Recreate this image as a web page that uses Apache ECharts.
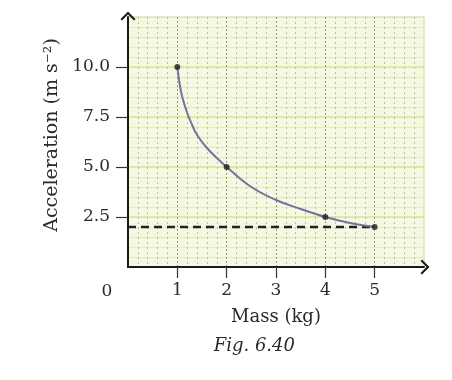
<!DOCTYPE html>
<html>
<head>
<meta charset="utf-8">
<style>html,body{margin:0;padding:0;background:#fff;}#c{width:452px;height:380px;}</style>
<script src="https://cdn.jsdelivr.net/npm/echarts@6/dist/echarts.min.js"></script>
</head>
<body>
<div id="c"></div>
<script>
// values
var curveMass = [1, 1.05, 1.1, 1.2, 1.3, 1.4, 1.6, 1.8, 2, 2.5, 3, 3.5, 4, 4.5, 5];
var curveAcc  = [10, 9.1, 8.5, 7.7, 7.1, 6.6, 5.95, 5.45, 5, 4.0, 3.35, 2.9, 2.5, 2.2, 2.0];
var pointMass = [1, 2, 4, 5];
var pointAcc  = [10, 5, 2.5, 2.0];
var dashMass = [0, 5];
var dashAcc  = [2.0, 2.0];
var xTicks = [1, 2, 3, 4, 5];
var yTicks = [2.5, 5, 7.5, 10];
var xName = 'Mass (kg)';
var yName = 'Acceleration (m s\u207B\u00B2)';
var caption = 'Fig. 6.40';
var originLabel = '0';

function zip(a, b) { return a.map(function (v, i) { return [v, b[i]]; }); }

var chev = 'path://M0,10 L10,0 L20,10 L18,12 L10,4 L2,12 Z';
var serif = 'DejaVu Serif';
var chart = echarts.init(document.getElementById('c'), null, {renderer: 'canvas'});
chart.setOption({
  animation: false,
  backgroundColor: '#ffffff',
  grid: {left: 128, right: 28, top: 17, bottom: 113, show: true,
         backgroundColor: '#f5f9e3', borderColor: '#c9d99a', borderWidth: 1},
  xAxis: {
    type: 'value', min: 0, max: 6, interval: 1,
    axisLine: {show: true, onZero: false, symbol: ['none', chev], symbolSize: [16, 9], symbolOffset: [0, 1],
               lineStyle: {color: '#1a1a1a', width: 2}},
    axisTick: {show: true, customValues: xTicks, length: 11, lineStyle: {color: '#333', width: 1.2}},
    axisLabel: {customValues: xTicks, margin: 15, fontFamily: serif, fontSize: 17, color: '#2a2a2a'},
    splitLine: {show: true, lineStyle: {color: '#8f9f7a', width: 1, type: [2, 2]}},
    minorTick: {show: true, splitNumber: 5, length: 0},
    minorSplitLine: {show: true, lineStyle: {color: '#b3c2a0', width: 1, type: [2, 3]}},
    name: xName, nameLocation: 'middle', nameGap: 41,
    nameTextStyle: {fontFamily: serif, fontSize: 18, color: '#2a2a2a'}
  },
  yAxis: {
    type: 'value', min: 0, max: 12.5, interval: 2.5,
    axisLine: {show: true, onZero: false, symbol: ['none', chev], symbolSize: [16, 9], symbolOffset: [0, 1],
               lineStyle: {color: '#1a1a1a', width: 2}},
    axisTick: {show: true, customValues: yTicks, length: 12, lineStyle: {color: '#333', width: 1.2}},
    axisLabel: {customValues: yTicks, margin: 18, fontFamily: serif, fontSize: 17, color: '#2a2a2a',
                formatter: function (v) { return v.toFixed(1); }},
    splitLine: {show: true, lineStyle: {color: '#d3e38e', width: 1.6}},
    minorTick: {show: true, splitNumber: 5, length: 0},
    minorSplitLine: {show: true, lineStyle: {color: '#e3edb8', width: 1}},
    name: yName, nameLocation: 'middle', nameGap: 53, nameRotate: 90,
    nameTextStyle: {fontFamily: serif, fontSize: 19, color: '#2a2a2a', padding: [0, 0, 0, 14]}
  },
  series: [
    {type: 'line', data: zip(dashMass, dashAcc), symbol: 'none', silent: true,
     lineStyle: {color: '#222', width: 2.5, type: [8, 5]}, z: 3},
    {type: 'line', data: zip(curveMass, curveAcc), symbol: 'none', smooth: 0.4,
     lineStyle: {color: '#75719d', width: 2}, z: 4},
    {type: 'scatter', data: zip(pointMass, pointAcc), symbolSize: 6,
     itemStyle: {color: '#1e1e1e'}, z: 5}
  ]
});
var o = chart.convertToPixel({gridIndex: 0}, [0, 0]);
var m = chart.convertToPixel({gridIndex: 0}, [2.5, 0]);
chart.setOption({
  graphic: [
    {type: 'text', x: o[0] - 21, y: o[1] + 25,
     style: {text: originLabel, font: '17px "DejaVu Serif"', fill: '#2a2a2a', align: 'center', verticalAlign: 'middle'}},
    {type: 'text', x: m[0] + 3, y: o[1] + 79,
     style: {text: caption, font: 'italic 18px "DejaVu Serif"', fill: '#2a2a2a', align: 'center', verticalAlign: 'middle'}}
  ]
});
</script>
</body>
</html>
